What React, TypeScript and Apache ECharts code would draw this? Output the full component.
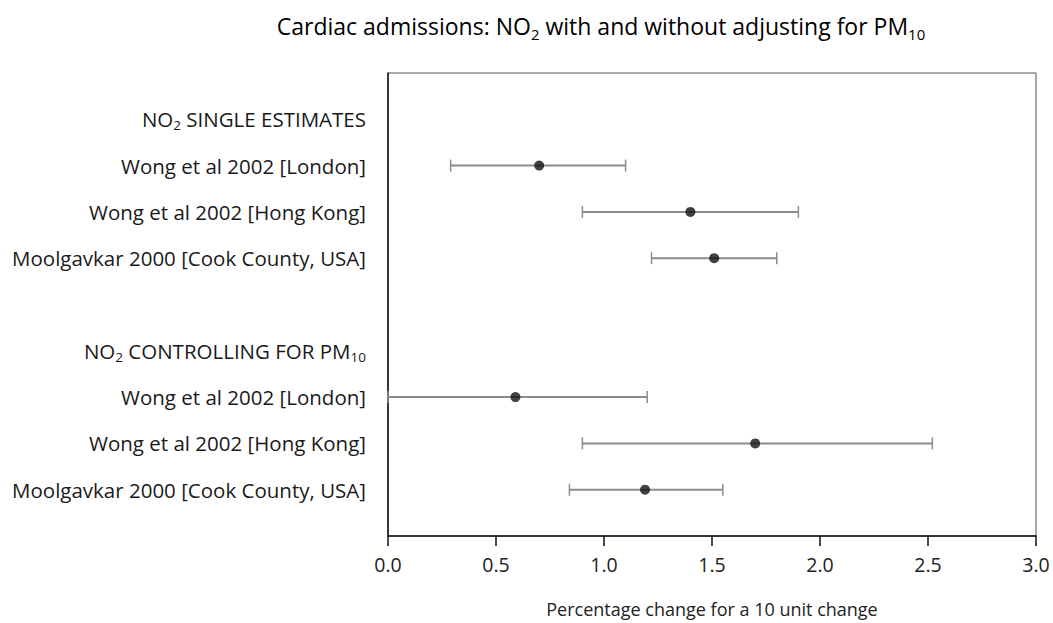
import React, { useEffect, useRef } from "react";
import * as echarts from "echarts";

// Row labels from top (position 0 and 10 are padding rows)
const rowLabels: string[] = [
  "",
  "NO2 SINGLE ESTIMATES",
  "Wong et al 2002 [London]",
  "Wong et al 2002 [Hong Kong]",
  "Moolgavkar 2000 [Cook County, USA]",
  "",
  "NO2 CONTROLLING FOR PM10",
  "Wong et al 2002 [London]",
  "Wong et al 2002 [Hong Kong]",
  "Moolgavkar 2000 [Cook County, USA]",
  "",
];

// Study rows (positions in rowLabels), estimates and 95% CI
const studyRows: number[] = [2, 3, 4, 7, 8, 9];
const estimates: number[] = [0.7, 1.4, 1.51, 0.59, 1.7, 1.19];
const lowerCI: number[] = [0.29, 0.9, 1.22, 0.0, 0.9, 0.84];
const upperCI: number[] = [1.1, 1.9, 1.8, 1.2, 2.52, 1.55];

const xTicks: number[] = [0, 0.5, 1, 1.5, 2, 2.5, 3];

const FONT = "'Open Sans', 'DejaVu Sans', sans-serif";

function subRich(s: string): string {
  const parts = s.split(/(NO2|PM10)/);
  return parts
    .filter((p) => p.length > 0)
    .map((p) => {
      if (p === "NO2") return "{n|NO}{s|2}";
      if (p === "PM10") return "{n|PM}{s|10}";
      return "{n|" + p + "}";
    })
    .join("");
}

export default function App() {
  const ref = useRef<HTMLDivElement>(null);

  useEffect(() => {
    document.body.style.margin = "0";
    if (!ref.current) return;
    const chart = echarts.init(ref.current, undefined, { renderer: "svg" });

    const barData = studyRows.map((r, i) => [lowerCI[i], upperCI[i], r]);
    const pointData = studyRows.map((r, i) => [estimates[i], r]);

    const labelRich = {
      n: { fontSize: 20.5, fontFamily: FONT, color: "#1a1a1a", lineHeight: 26, verticalAlign: "middle" },
      s: { fontSize: 13.5, fontFamily: FONT, color: "#1a1a1a", lineHeight: 13, verticalAlign: "bottom" },
    };

    chart.setOption({
      animation: false,
      backgroundColor: "#ffffff",
      textStyle: { fontFamily: FONT },
      graphic: [
        {
          type: "text",
          x: 601,
          y: 26,
          style: {
            text: subRich("Cardiac admissions: NO2 with and without adjusting for PM10"),
            align: "center",
            verticalAlign: "middle",
            rich: {
              n: { fontSize: 23, fontFamily: FONT, color: "#222", lineHeight: 30, verticalAlign: "middle" },
              s: { fontSize: 15, fontFamily: FONT, color: "#222", lineHeight: 15, verticalAlign: "bottom" },
            },
          },
        },
      ],
      grid: {
        left: 388,
        right: 17,
        top: 73,
        bottom: 85,
        show: true,
        borderColor: "#555",
        borderWidth: 1,
        backgroundColor: "transparent",
      },
      xAxis: {
        type: "value",
        min: xTicks[0],
        max: xTicks[xTicks.length - 1],
        interval: 0.5,
        axisLine: { show: true, onZero: false, lineStyle: { color: "#111", width: 1.5 } },
        axisTick: { show: true, length: 10, lineStyle: { color: "#111", width: 1.5 } },
        splitLine: { show: false },
        axisLabel: {
          margin: 18,
          fontSize: 19.5,
          color: "#222",
          fontFamily: FONT,
          formatter: (v: number) => v.toFixed(1),
        },
        name: "Percentage change for a 10 unit change",
        nameLocation: "middle",
        nameGap: 64,
        nameTextStyle: { fontSize: 18, color: "#222", fontFamily: FONT },
      },
      yAxis: {
        type: "value",
        min: 0,
        max: rowLabels.length - 1,
        interval: 1,
        inverse: true,
        axisLine: { show: true, lineStyle: { color: "#111", width: 1.5 } },
        axisTick: { show: false },
        splitLine: { show: false },
        axisLabel: {
          margin: 22,
          formatter: (v: number) => {
            const s = rowLabels[Math.round(v)] || "";
            return s ? subRich(s) : "";
          },
          rich: labelRich,
        },
      },
      series: [
        {
          type: "custom",
          data: barData,
          renderItem: (params: any, api: any) => {
            const lo = api.coord([api.value(0), api.value(2)]);
            const hi = api.coord([api.value(1), api.value(2)]);
            const h = 6;
            const style = { stroke: "#8c8c8c", lineWidth: 2, fill: "none" };
            return {
              type: "group",
              children: [
                { type: "line", shape: { x1: lo[0], y1: lo[1], x2: hi[0], y2: hi[1] }, style },
                { type: "line", shape: { x1: lo[0], y1: lo[1] - h, x2: lo[0], y2: lo[1] + h }, style: { ...style, lineWidth: 1.5 } },
                { type: "line", shape: { x1: hi[0], y1: hi[1] - h, x2: hi[0], y2: hi[1] + h }, style: { ...style, lineWidth: 1.5 } },
              ],
            };
          },
          z: 2,
        },
        {
          type: "scatter",
          data: pointData,
          symbol: "circle",
          symbolSize: 10,
          itemStyle: { color: "#111" },
          z: 3,
        },
      ],
    });

    return () => {
      chart.dispose();
    };
  }, []);

  return <div ref={ref} style={{ width: 1053, height: 623 }} />;
}
